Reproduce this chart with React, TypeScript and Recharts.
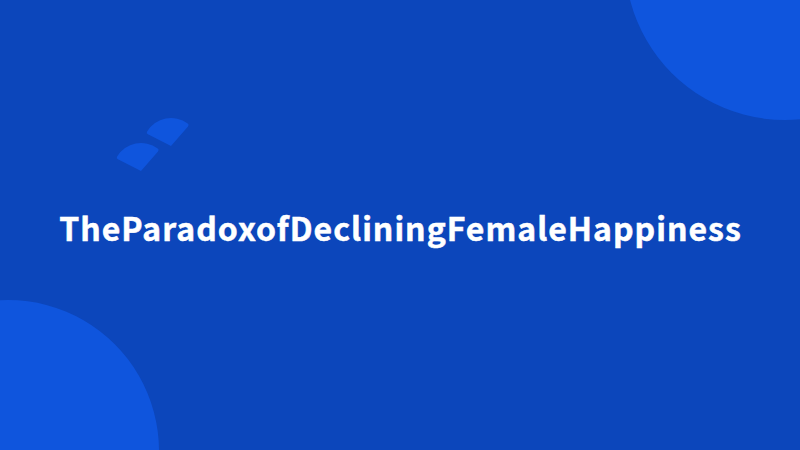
import { PieChart, Pie, Cell } from 'recharts';

// decorative shapes, each drawn as a pie slice
const fullDisc = [{ name: 'disc', value: 1 }];
const logoSlice = [{ name: 'slice', value: 1 }];

const TITLE = 'TheParadoxofDecliningFemaleHappiness';

const BACKGROUND = '#0c46bb';
const ACCENT = '#0f55dd';

export default function App() {
  return (
    <div style={{ position: 'fixed', left: 0, top: 0, width: 800, height: 450, background: BACKGROUND, overflow: 'hidden' }}>
      <PieChart width={800} height={450} margin={{ top: 0, right: 0, bottom: 0, left: 0 }}>
        {/* corner discs */}
        <Pie data={fullDisc} dataKey="value" cx={785} cy={-40} innerRadius={0} outerRadius={160} startAngle={0} endAngle={360} stroke="none" isAnimationActive={false}>
          <Cell fill={ACCENT} />
        </Pie>
        <Pie data={fullDisc} dataKey="value" cx={8} cy={451} innerRadius={0} outerRadius={151} startAngle={0} endAngle={360} stroke="none" isAnimationActive={false}>
          <Cell fill={ACCENT} />
        </Pie>
        {/* logo */}
        <Pie data={logoSlice} dataKey="value" cx={171} cy={146} innerRadius={0} outerRadius={28} startAngle={49} endAngle={153} cornerRadius={2} stroke="none" isAnimationActive={false}>
          <Cell fill={ACCENT} />
        </Pie>
        <Pie data={logoSlice} dataKey="value" cx={141} cy={171} innerRadius={0} outerRadius={28} startAngle={49} endAngle={153} cornerRadius={2} stroke="none" isAnimationActive={false}>
          <Cell fill={ACCENT} />
        </Pie>
        <text x={400.5} y={240.5} textAnchor="middle" fill="#ffffff" stroke="#ffffff" strokeWidth={0.5} fontSize={32} fontWeight={700} letterSpacing={1} fontFamily="'Noto Sans CJK SC', 'Noto Sans', sans-serif">
          {TITLE}
        </text>
      </PieChart>
    </div>
  );
}
